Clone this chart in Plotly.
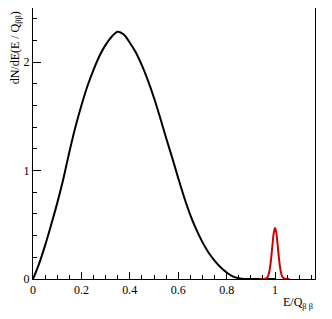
import plotly.graph_objects as go

# Black spectrum (2nu)
bb_x = [0, 0.025, 0.05, 0.075, 0.1, 0.125, 0.15, 0.175, 0.2, 0.225, 0.25, 0.275, 0.3,
        0.325, 0.35, 0.375, 0.4, 0.425, 0.45, 0.475, 0.5, 0.525, 0.55, 0.575, 0.6,
        0.625, 0.65, 0.675, 0.7, 0.725, 0.75, 0.775, 0.8, 0.825, 0.85, 0.875, 0.9,
        0.95, 1.0]
bb_y = [0, 0.14, 0.31, 0.50, 0.70, 0.92, 1.17, 1.40, 1.60, 1.78, 1.93, 2.06, 2.16,
        2.235, 2.28, 2.255, 2.18, 2.09, 1.97, 1.83, 1.67, 1.49, 1.30, 1.12, 0.93,
        0.75, 0.59, 0.455, 0.34, 0.245, 0.17, 0.108, 0.06, 0.025, 0.007, 0, 0,
        0, 0]

# Red peak (0nu)
peak_x = [0.935, 0.96, 0.97, 0.975, 0.98, 0.985, 0.99, 0.995, 1.0, 1.005, 1.01, 1.015,
          1.02, 1.025, 1.03, 1.04, 1.06]
peak_y = [0, 0.002, 0.021, 0.055, 0.118, 0.215, 0.33, 0.43, 0.47, 0.43, 0.33, 0.215,
          0.118, 0.055, 0.021, 0.002, 0]

FONT = "Liberation Serif, Times New Roman, serif"

fig = go.Figure()
fig.add_trace(go.Scatter(x=bb_x, y=bb_y, mode="lines",
                         line=dict(color="black", width=2, shape="spline", smoothing=1),
                         showlegend=False, hoverinfo="skip"))
fig.add_trace(go.Scatter(x=peak_x, y=peak_y, mode="lines",
                         line=dict(color="#cc0000", width=2, shape="spline", smoothing=0.8),
                         showlegend=False, hoverinfo="skip"))

# The page body has an 8px margin, so the figure is sized and margined to compensate
fig.update_layout(
    width=324, height=311,
    margin=dict(l=25, r=17, t=0, b=40, autoexpand=False),
    paper_bgcolor="white", plot_bgcolor="white",
    font=dict(family=FONT, size=12, color="black"),
    xaxis=dict(range=[0, 1.165], showgrid=False, zeroline=False,
               showline=True, linecolor="black", linewidth=1, mirror=True,
               ticks="inside", ticklen=7, tickcolor="black", tickwidth=1,
               tickvals=[0, 0.2, 0.4, 0.6, 0.8, 1.0],
               ticktext=["0", "0.2", "0.4", "0.6", "0.8", "1"],
               minor=dict(dtick=0.05, tick0=0, ticks="inside", ticklen=4,
                          tickcolor="black", showgrid=False),
               tickfont=dict(family=FONT, size=12), automargin=False),
    yaxis=dict(range=[0, 2.5], showgrid=False, zeroline=False,
               showline=True, linecolor="black", linewidth=1, mirror=True,
               ticks="inside", ticklen=8, tickcolor="black", tickwidth=1,
               tickvals=[0, 1, 2], ticktext=["0", "1", "2"],
               minor=dict(dtick=0.2, tick0=0, ticks="inside", ticklen=4,
                          tickcolor="black", showgrid=False),
               tickfont=dict(family=FONT, size=12), automargin=False),
)

fig.add_annotation(text="dN/dE(E / Q<sub>ββ</sub>)", textangle=-90,
                   xref="paper", yref="paper", x=-0.062, y=0.995,
                   xanchor="center", yanchor="top", showarrow=False,
                   font=dict(family=FONT, size=12))
fig.add_annotation(text="E/Q<sub>β β</sub>",
                   xref="paper", yref="paper", x=1.0, y=-0.05,
                   xanchor="right", yanchor="top", showarrow=False,
                   font=dict(family=FONT, size=12))

fig.write_html("out.html")
